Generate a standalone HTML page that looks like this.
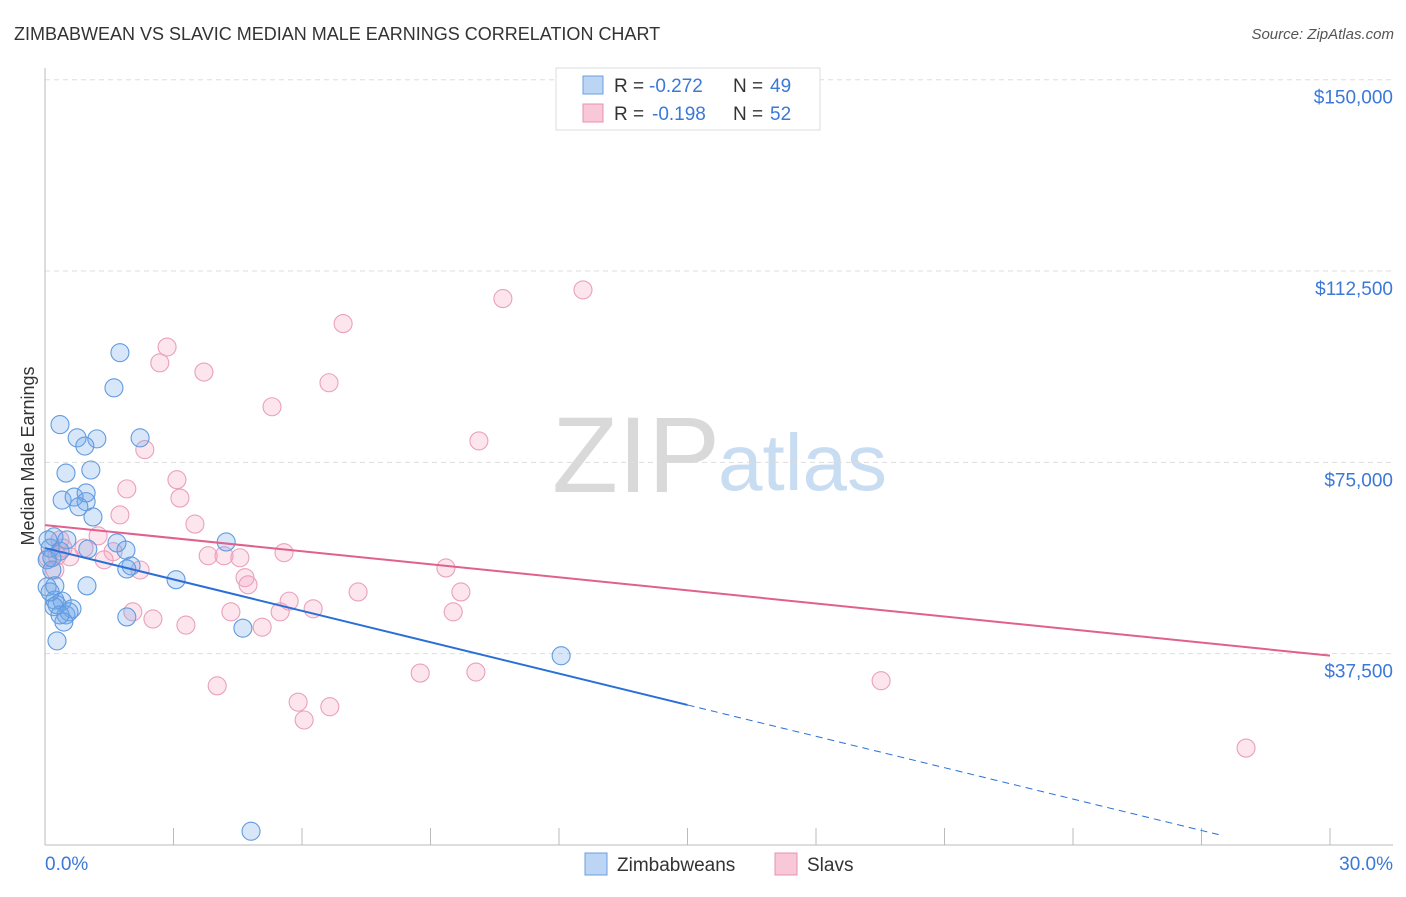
<!DOCTYPE html>
<html><head><meta charset="utf-8"><style>
body{margin:0;background:#fff;font-family:"Liberation Sans",sans-serif;}
svg text{font-family:"Liberation Sans",sans-serif;}
</style></head><body>
<svg id="chart" width="1406" height="892" viewBox="0 0 1406 892" xmlns="http://www.w3.org/2000/svg">
<text x="14" y="40" font-size="18" fill="#333">ZIMBABWEAN VS SLAVIC MEDIAN MALE EARNINGS CORRELATION CHART</text>
<text x="1394" y="39" font-size="15" fill="#555" text-anchor="end" font-style="italic">Source: ZipAtlas.com</text>
<g>
<text x="552" y="492" font-size="108" fill="#d9d9d9" font-family="Liberation Serif, serif">ZIP</text>
<text x="718" y="490" font-size="80" fill="#c8dcf2">atlas</text>
</g>
<g id="grid"></g>
<g id="axes"></g>
<text transform="translate(34,456) rotate(-90)" font-size="18" fill="#333" text-anchor="middle">Median Male Earnings</text>
<g id="pts"></g>
<g id="trends"></g>
<g>
<rect x="556" y="68" width="264" height="62" fill="#fff" stroke="#ddd"/>
<rect x="583" y="76" width="20" height="18" fill="#bcd5f5" stroke="#6a9fe0"/>
<text x="614" y="92" font-size="19" fill="#333">R =</text>
<text x="649" y="92" font-size="19" fill="#3b78d8">-0.272</text>
<text x="733" y="92" font-size="19" fill="#333">N =</text>
<text x="770" y="92" font-size="19" fill="#3b78d8">49</text>
<rect x="583" y="104" width="20" height="18" fill="#f8c8d8" stroke="#e890b0"/>
<text x="614" y="120" font-size="19" fill="#333">R =</text>
<text x="652" y="120" font-size="19" fill="#3b78d8">-0.198</text>
<text x="733" y="120" font-size="19" fill="#333">N =</text>
<text x="770" y="120" font-size="19" fill="#3b78d8">52</text>
</g>
<g>
<rect x="585" y="853" width="22" height="22" fill="#bcd5f5" stroke="#6a9fe0"/>
<text x="617" y="871" font-size="19" fill="#333">Zimbabweans</text>
<rect x="775" y="853" width="22" height="22" fill="#f8c8d8" stroke="#e890b0"/>
<text x="807" y="871" font-size="19" fill="#333">Slavs</text>
</g>
</svg>
<script>
const yTicks=[37500,75000,112500,150000];
const yTickLabels=["$37,500","$75,000","$112,500","$150,000"];
const xTickCount=[0,3,6,9,12,15,18,21,24,27,30];
const xEndLabels=["0.0%","30.0%"];
const blueX=[1.75,1.61,0.35,0.75,1.21,2.22,0.93,0.49,1.07,0.40,0.68,0.96,0.96,0.79,1.12,0.21,0.51,1.68,1.89,4.23,0.12,0.35,1.0,0.05,0.16,2.01,1.91,3.06,0.05,0.23,0.98,0.23,0.40,0.28,0.63,0.21,0.49,0.56,0.44,1.91,4.62,0.28,12.05,4.81,0.16,0.07,0.12,0.35];
const blueY=[96.5,89.6,82.4,79.8,79.6,79.8,78.2,72.9,73.5,67.6,68.2,69.0,67.3,66.3,64.3,60.4,59.8,59.2,57.8,59.4,58.2,57.6,58.0,55.9,53.9,54.7,54.1,52.0,50.6,50.8,50.8,48.0,47.8,47.1,46.3,46.7,45.1,45.7,43.7,44.7,42.5,40.0,37.1,2.7,56.3,59.8,49.6,45.1];
const pinkX=[12.56,10.69,6.96,2.85,2.68,3.71,6.63,5.30,10.13,2.33,3.08,3.15,1.91,1.75,3.50,1.24,0.35,0.91,1.59,0.28,0.58,1.38,2.22,3.81,4.18,4.55,5.58,4.67,4.74,9.36,7.31,9.71,5.70,6.26,5.49,2.05,4.34,9.53,2.52,3.29,5.07,4.02,8.76,10.06,5.91,6.65,6.05,19.52,28.04,0.23,0.07,0.42];
const pinkY=[108.8,107.1,102.2,97.6,94.5,92.7,90.6,85.9,79.2,77.5,71.6,68.0,69.8,64.7,62.9,60.6,59.8,58.2,57.5,56.7,56.5,55.9,53.9,56.7,56.7,56.3,57.3,52.4,51.0,54.3,49.6,49.6,47.8,46.3,45.7,45.7,45.7,45.7,44.3,43.1,42.7,31.2,33.7,33.9,28.0,27.1,24.5,32.2,19.0,53.9,56.3,58.2];
const blueTrend=[58.2,-2.05];
const pinkTrend=[62.7,-0.853];
const NS="http://www.w3.org/2000/svg";
const X=v=>45+v*(1285/30);
const Y=v=>845-v*1000*(765.3/150000);
function mk(tag,attrs,parent){const e=document.createElementNS(NS,tag);for(const k in attrs)e.setAttribute(k,attrs[k]);parent.appendChild(e);return e;}
const grid=document.getElementById('grid'),axes=document.getElementById('axes');
yTicks.forEach((t,i)=>{
 const l=mk('line',{x1:45,x2:1393,y1:Y(t/1000),y2:Y(t/1000),stroke:'#ddd','stroke-dasharray':'5,4'},grid);
 
 
 const tx=mk('text',{x:1393,y:Y(t/1000)+24,'font-size':19,fill:'#3b78d8','text-anchor':'end'},axes);
 tx.textContent=yTickLabels[i];
 
 
});
const ax=mk('line',{x1:45,x2:45,y1:68,y2:845,stroke:'#bbb'},axes);


const bx=mk('line',{x1:45,x2:1393,y1:845,y2:845,stroke:'#bbb'},axes);


xTickCount.forEach(t=>{
 const l=mk('line',{x1:X(t),x2:X(t),y1:828,y2:845,stroke:'#bbb'},axes);
 
 
});
[[0,'start',45],[30,'end',1393]].forEach((d,i)=>{
 const tx=mk('text',{x:d[2],y:870,'font-size':19,fill:'#3b78d8','text-anchor':d[1]},axes);
 tx.textContent=xEndLabels[i];
 
 
});
const pts=document.getElementById('pts');
function dots(xs,ys,fill,stroke,name){xs.forEach((x,i)=>{
 const c=mk('circle',{cx:X(x),cy:Y(ys[i]),r:9,fill:fill,stroke:stroke,'stroke-width':1.1},pts);
 
 
});}
dots(pinkX,pinkY,'rgba(244,160,190,0.28)','#eaa0bc','slav-point');
dots(blueX,blueY,'rgba(110,165,235,0.28)','#609be0','zimbabwean-point');
const tr=document.getElementById('trends');
const f=(t,x)=>t[0]+t[1]*x;
let l=mk('line',{x1:X(0),y1:Y(f(blueTrend,0)),x2:X(15),y2:Y(f(blueTrend,15)),stroke:'#2a6fd6','stroke-width':2},tr);


l=mk('line',{x1:X(15),y1:Y(f(blueTrend,15)),x2:X(27.4),y2:Y(f(blueTrend,27.4)),stroke:'#2a6fd6','stroke-width':1,'stroke-dasharray':'7,5'},tr);


l=mk('line',{x1:X(0),y1:Y(f(pinkTrend,0)),x2:X(30),y2:Y(f(pinkTrend,30)),stroke:'#e0608e','stroke-width':2},tr);


</script>
</body></html>
